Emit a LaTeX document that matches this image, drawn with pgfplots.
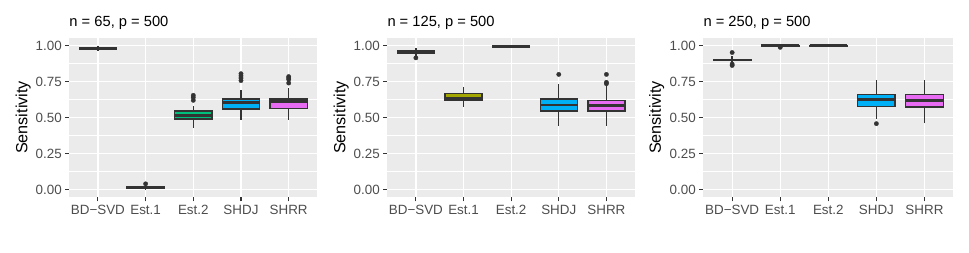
\documentclass[border=0pt]{standalone}
\usepackage{pgfplots}
\pgfplotsset{compat=1.18}
\usepgfplotslibrary{statistics}
\usepackage{fontspec}
\setmainfont{Liberation Sans}
\definecolor{bgc}{HTML}{EBEBEB}
\definecolor{g20}{HTML}{333333}
\definecolor{g30}{HTML}{4D4D4D}
\definecolor{cA}{HTML}{F8766D}
\definecolor{cB}{HTML}{A3A500}
\definecolor{cC}{HTML}{00BF7D}
\definecolor{cD}{HTML}{00B0F6}
\definecolor{cE}{HTML}{E76BF3}
\pgfplotsset{
  ggbox/.style={
    width=248pt, height=159.6pt, scale only axis,
    xmin=0.4, xmax=5.6, ymin=-0.0535, ymax=1.055,
    axis background/.style={fill=bgc},
    axis line style={draw=none},
    xtick={1,2,3,4,5},
    xticklabels={BD−SVD,Est.1,Est.2,SHDJ,SHRR},
    ytick={0,0.25,0.5,0.75,1},
    yticklabels={0.00,0.25,0.50,0.75,1.00},
    minor ytick={0.125,0.375,0.625,0.875},
    xtick pos=bottom, ytick pos=left,
    xmajorgrids, ymajorgrids, yminorgrids,
    major grid style={white, line width=1.3pt},
    minor grid style={white, line width=0.65pt},
    tick align=outside,
    major tick length=4pt,
    minor tick length=0pt,
    tick style={g20, line width=1.1pt},
    ticklabel style={font=\fontsize{13.4}{14}\selectfont, text=g30},
    ylabel={Sensitivity},
    ylabel style={font=\fontsize{16.2}{18}\selectfont, at={(axis description cs:-0.186,0.5)}, anchor=center},
    title style={font=\fontsize{14.7}{16}\selectfont, at={(axis description cs:0,1)}, anchor=base west, yshift=5pt, inner sep=0pt},
    boxplot/draw direction=y,
    boxplot/box extend=0.78,
    boxplot/whisker extend=0,
    boxplot/every median/.style={line width=2.8pt},
  },
  bx/.style={draw=g20, fill=#1, line width=1.4pt, mark=*, mark size=2.2pt,
    mark options={draw=g20, fill=g20, line width=0.3pt, solid}},
}
\begin{document}
\begin{tikzpicture}
\path[use as bounding box] (0,0) rectangle (969pt,253pt);
% Panel 1
\begin{axis}[ggbox, at={(69.3pt,55.7pt)}, anchor=south west, title={n = 65, p = 500}]
\addplot[bx=cA, boxplot prepared={draw position=1, lower whisker=0.963, lower quartile=0.976, median=0.981, upper quartile=0.986, upper whisker=0.995}] coordinates {};
\addplot[bx=cB, boxplot prepared={draw position=2, lower whisker=0.0, lower quartile=0.010, median=0.015, upper quartile=0.022, upper whisker=0.035}] coordinates {(0,0.04)};
\addplot[bx=cC, boxplot prepared={draw position=3, lower whisker=0.43, lower quartile=0.49, median=0.515, upper quartile=0.547, upper whisker=0.578}] coordinates {(0,0.62) (0,0.64) (0,0.655)};
\addplot[bx=cD, boxplot prepared={draw position=4, lower whisker=0.484, lower quartile=0.56, median=0.605, upper quartile=0.628, upper whisker=0.69}] coordinates {(0,0.757) (0,0.775) (0,0.79) (0,0.805)};
\addplot[bx=cE, boxplot prepared={draw position=5, lower whisker=0.484, lower quartile=0.562, median=0.612, upper quartile=0.63, upper whisker=0.705}] coordinates {(0,0.74) (0,0.765) (0,0.775) (0,0.785)};
\end{axis}
% Panel 2
\begin{axis}[ggbox, at={(387.3pt,55.7pt)}, anchor=south west, width=247.7pt, title={n = 125, p = 500}]
\addplot[bx=cA, boxplot prepared={draw position=1, lower whisker=0.93, lower quartile=0.945, median=0.955, upper quartile=0.965, upper whisker=0.985}] coordinates {(0,0.915)};
\addplot[bx=cB, boxplot prepared={draw position=2, lower whisker=0.577, lower quartile=0.622, median=0.635, upper quartile=0.668, upper whisker=0.71}] coordinates {};
\addplot[bx=cC, boxplot prepared={draw position=3, lower whisker=0.98, lower quartile=0.988, median=0.993, upper quartile=0.998, upper whisker=1.0}] coordinates {};
\addplot[bx=cD, boxplot prepared={draw position=4, lower whisker=0.44, lower quartile=0.545, median=0.588, upper quartile=0.63, upper whisker=0.733}] coordinates {(0,0.80)};
\addplot[bx=cE, boxplot prepared={draw position=5, lower whisker=0.44, lower quartile=0.545, median=0.585, upper quartile=0.62, upper whisker=0.72}] coordinates {(0,0.735) (0,0.745) (0,0.80)};
\end{axis}
% Panel 3
\begin{axis}[ggbox, at={(703.3pt,55.7pt)}, anchor=south west, width=250pt, title={n = 250, p = 500}]
\addplot[bx=cA, boxplot prepared={draw position=1, lower whisker=0.88, lower quartile=0.895, median=0.90, upper quartile=0.905, upper whisker=0.93}] coordinates {(0,0.952) (0,0.872) (0,0.862)};
\addplot[bx=cB, boxplot prepared={draw position=2, lower whisker=0.995, lower quartile=0.998, median=1.0, upper quartile=1.0, upper whisker=1.0}] coordinates {(0,0.988)};
\addplot[bx=cC, boxplot prepared={draw position=3, lower whisker=0.998, lower quartile=0.998, median=1.0, upper quartile=1.0, upper whisker=1.0}] coordinates {};
\addplot[bx=cD, boxplot prepared={draw position=4, lower whisker=0.49, lower quartile=0.579, median=0.623, upper quartile=0.66, upper whisker=0.76}] coordinates {(0,0.458)};
\addplot[bx=cE, boxplot prepared={draw position=5, lower whisker=0.46, lower quartile=0.574, median=0.62, upper quartile=0.66, upper whisker=0.76}] coordinates {};
\end{axis}
\end{tikzpicture}
\end{document}
